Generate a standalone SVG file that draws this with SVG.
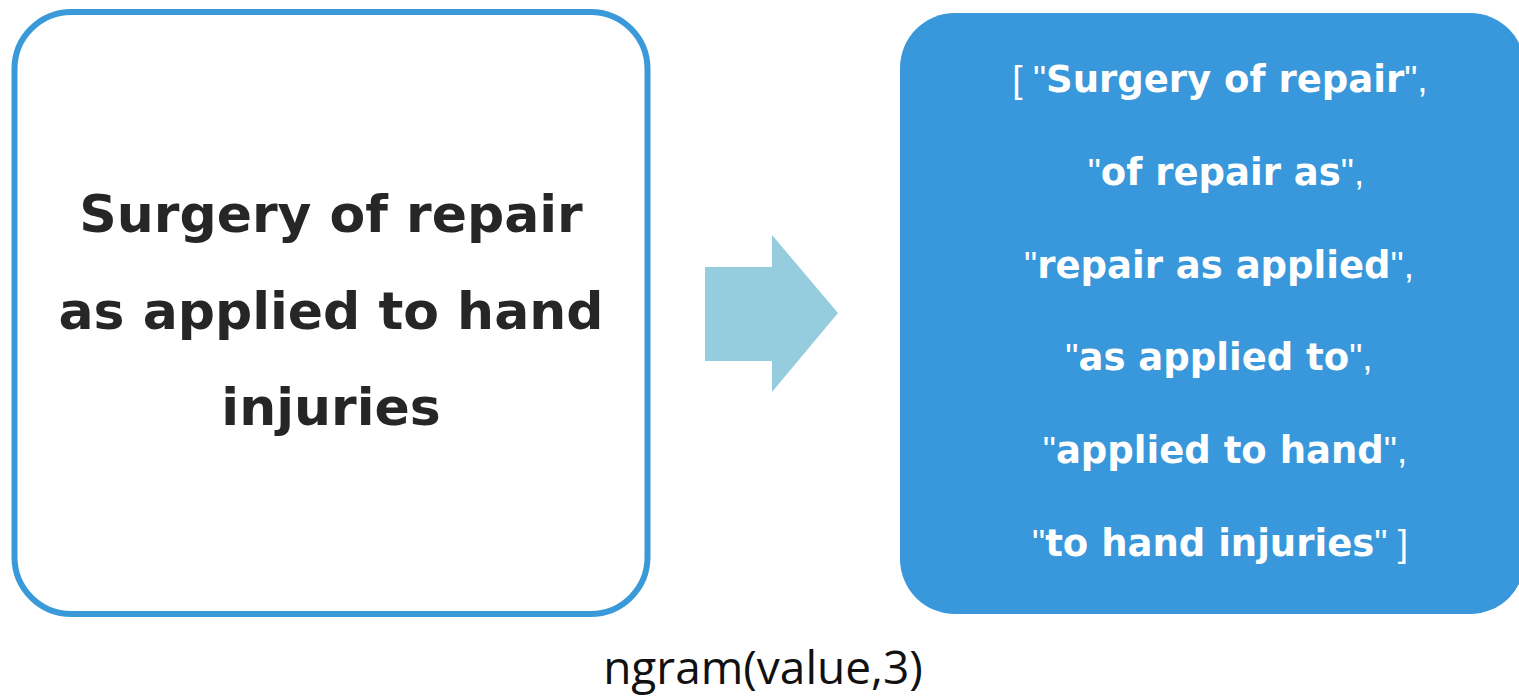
<svg xmlns="http://www.w3.org/2000/svg" width="1519" height="697" viewBox="0 0 1519 697">
  <style>
    .src { fill: #ffffff; stroke: #3a9ad9; stroke-width: 6; }
    .out { fill: #3898db; }
    .arrow { fill: #95cddf; }
    .srcText { font-family: "DejaVu Sans", Verdana, sans-serif; font-weight: bold; font-size: 52px; fill: #262626; text-anchor: middle; }
    .outText { font-family: "DejaVu Sans", Verdana, sans-serif; font-weight: bold; font-size: 37px; fill: #ffffff; text-anchor: middle; }
    .thin { font-weight: normal; font-family: "Liberation Sans", Arial, sans-serif; }
    .caption { font-family: "Open Sans", "Liberation Sans", sans-serif; font-size: 46px; fill: #111111; text-anchor: middle; }
  </style>

  <!-- input value -->
  <g id="input">
    <rect class="src" x="14.5" y="12" width="633" height="602" rx="57" ry="57"/>
    <text class="srcText" x="331" y="232">Surgery of repair</text>
    <text class="srcText" x="331" y="329">as applied to hand</text>
    <text class="srcText" x="331" y="425">injuries</text>
  </g>

  <!-- transformation arrow -->
  <g id="connectors">
    <polygon class="arrow" points="705,267 772,267 772,235 838,313 772,392 772,361 705,361"/>
  </g>

  <!-- resulting trigrams -->
  <g id="output">
    <rect class="out" x="900" y="13" width="625" height="601" rx="55" ry="55"/>
    <text class="outText" x="1220" y="92"><tspan class="thin">[ "</tspan>Surgery of repair<tspan class="thin">",</tspan></text>
    <text class="outText" x="1226" y="185"><tspan class="thin">"</tspan>of repair as<tspan class="thin">",</tspan></text>
    <text class="outText" x="1219" y="278"><tspan class="thin">"</tspan>repair as applied<tspan class="thin">",</tspan></text>
    <text class="outText" x="1219" y="370"><tspan class="thin">"</tspan>as applied to<tspan class="thin">",</tspan></text>
    <text class="outText" x="1225" y="463"><tspan class="thin">"</tspan>applied to hand<tspan class="thin">",</tspan></text>
    <text class="outText" x="1220" y="556"><tspan class="thin">"</tspan>to hand injuries<tspan class="thin">" ]</tspan></text>
  </g>

  <!-- function label -->
  <g id="label">
    <text class="caption" x="763" y="684">ngram(value,3)</text>
  </g>
</svg>
